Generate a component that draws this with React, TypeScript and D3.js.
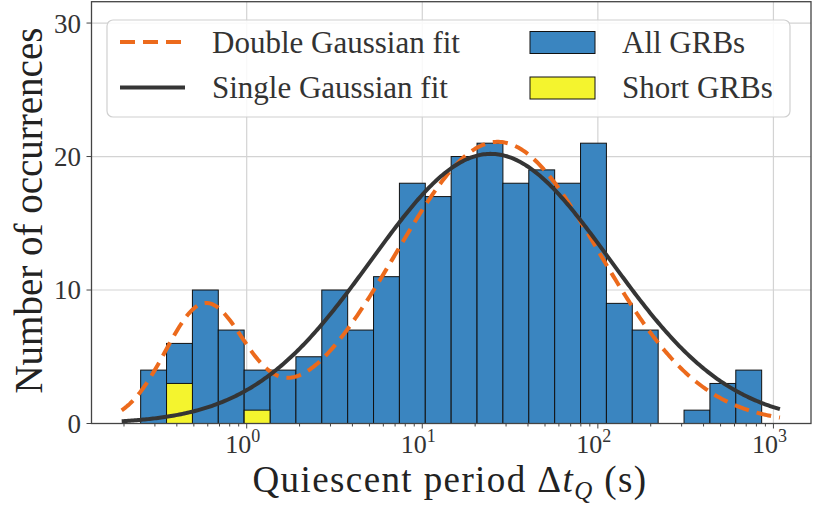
import React from "react";
import * as d3 from "d3";

// Histogram counts per log-spaced bin (24 bins)
const allCounts = [4, 6, 10, 7, 4, 4, 5, 10, 7, 11, 18, 17, 20, 21, 18, 19, 18, 21, 9, 7, 0, 1, 3, 4];
const shortCounts = [0, 3, 0, 0, 1, 0, 0, 0, 0, 0, 0, 0, 0, 0, 0, 0, 0, 0, 0, 0, 0, 0, 0, 0];
const binLog10Start = -0.604;
const binLog10End = 2.933;

// Fit parameters (in log10 space)
const doubleFit = [
  { amp: 8.7, mu: -0.24, sigma: 0.225 },
  { amp: 21.1, mu: 1.43, sigma: 0.578 },
];
const singleFit = [{ amp: 20.2, mu: 1.39, sigma: 0.68 }];
const fitLog10Range = [-0.712, 3.037];

const xTicks = [1, 10, 100, 1000];
const xTickExp = ["0", "1", "2", "3"];
const yTicks = [0, 10, 20, 30];

const W = 821;
const H = 512;
const left = 91.5;
const right = 811;
const top = 1.7;
const bottom = 423.5;

const BLUE = "#3a85c0";
const YELLOW = "#f4f42e";
const ORANGE = "#ec6a1c";
const DARK = "#353535";
const FONT = "'Liberation Serif', 'Times New Roman', serif";

export default function App() {
  const x = d3.scaleLog().domain([Math.pow(10, -0.884), Math.pow(10, 3.214)]).range([left, right]);
  const y = d3.scaleLinear().domain([0, 31.6]).range([bottom, top]);

  const nb = allCounts.length;
  const step = (binLog10End - binLog10Start) / nb;
  const edges = d3.range(nb + 1).map((i) => Math.pow(10, binLog10Start + i * step));

  const gauss = (params: { amp: number; mu: number; sigma: number }[], lx: number) =>
    params.reduce((s, p) => s + p.amp * Math.exp(-((lx - p.mu) ** 2) / (2 * p.sigma * p.sigma)), 0);

  const samples = d3.range(0, 401).map((i) => fitLog10Range[0] + (i / 400) * (fitLog10Range[1] - fitLog10Range[0]));
  const pathFor = (params: any) =>
    d3
      .line<number>()
      .x((lx) => x(Math.pow(10, lx)))
      .y((lx) => y(gauss(params, lx)))(samples) || "";

  const minorTicks: number[] = [];
  for (let e = -1; e <= 3; e++) {
    for (let m = 2; m <= 9; m++) {
      const v = m * Math.pow(10, e);
      if (x(v) > left && x(v) < right) minorTicks.push(v);
    }
  }

  return (
    <svg width={W} height={H} style={{ position: "absolute", left: 0, top: 0, background: "#fff" }} fontFamily={FONT}>
      <rect x={0} y={0} width={W} height={H} fill="#fff" />
      {/* grid */}
      <g stroke="#d3d3d3" strokeWidth={1.2}>
        {xTicks.map((t) => (
          <line key={"gx" + t} x1={x(t)} x2={x(t)} y1={top} y2={bottom} />
        ))}
        {yTicks.map((t) => (
          <line key={"gy" + t} x1={left} x2={right} y1={y(t)} y2={y(t)} />
        ))}
      </g>
      {/* bars */}
      <g stroke="#111" strokeWidth={1}>
        {allCounts.map((c, i) =>
          c > 0 ? (
            <rect key={"a" + i} x={x(edges[i])} y={y(c)} width={x(edges[i + 1]) - x(edges[i])} height={y(0) - y(c)} fill={BLUE} />
          ) : null
        )}
        {shortCounts.map((c, i) =>
          c > 0 ? (
            <rect key={"s" + i} x={x(edges[i])} y={y(c)} width={x(edges[i + 1]) - x(edges[i])} height={y(0) - y(c)} fill={YELLOW} />
          ) : null
        )}
      </g>
      {/* fits */}
      <path d={pathFor(doubleFit)} fill="none" stroke={ORANGE} strokeWidth={4} strokeDasharray="15,8" />
      <path d={pathFor(singleFit)} fill="none" stroke={DARK} strokeWidth={4} />
      {/* frame */}
      <rect x={left} y={top} width={right - left} height={bottom - top} fill="none" stroke="#444" strokeWidth={1.3} />
      {/* ticks */}
      <g stroke="#444" strokeWidth={1}>
        {xTicks.map((t) => (
          <line key={"tx" + t} x1={x(t)} x2={x(t)} y1={bottom} y2={bottom + 5} />
        ))}
        {minorTicks.map((t) => (
          <line key={"mx" + t} x1={x(t)} x2={x(t)} y1={bottom} y2={bottom + 3} />
        ))}
        {yTicks.map((t) => (
          <line key={"ty" + t} x1={left - 5} x2={left} y1={y(t)} y2={y(t)} />
        ))}
      </g>
      {xTicks.map((t, i) => (
        <text key={"lx" + t} x={x(t) - 4} y={453} textAnchor="middle" fontSize={26} fill="#333">
          10
          <tspan dy={-11} fontSize={18}>
            {xTickExp[i]}
          </tspan>
        </text>
      ))}
      {yTicks.map((t) => (
        <text key={"ly" + t} x={81} y={y(t)} dy="0.35em" textAnchor="end" fontSize={27} fill="#333">
          {t}
        </text>
      ))}
      {/* axis labels */}
      <text x={450} y={492} textAnchor="middle" fontSize={37} letterSpacing={1.4} fill="#222">
        Quiescent period Δ<tspan fontStyle="italic">t</tspan>
        <tspan fontStyle="italic" fontSize={25} dy={7}>
          Q
        </tspan>
        <tspan dy={-7}> (s)</tspan>
      </text>
      <text transform={`translate(42,${(top + bottom) / 2 - 2}) rotate(-90)`} textAnchor="middle" fontSize={39} fill="#222">
        Number of occurrences
      </text>
      {/* legend */}
      <g>
        <rect x={107} y={20} width={683} height={97} rx={6} fill="#fff" fillOpacity={0.85} stroke="#d0d0d0" strokeWidth={1.2} />
        <line x1={120} x2={185} y1={42} y2={42} stroke={ORANGE} strokeWidth={4} strokeDasharray="15,8" />
        <line x1={120} x2={185} y1={87.5} y2={87.5} stroke={DARK} strokeWidth={4} />
        <text x={212} y={53} fontSize={31} fill="#333">
          Double Gaussian fit
        </text>
        <text x={212} y={98} fontSize={31} fill="#333">
          Single Gaussian fit
        </text>
        <rect x={530} y={31.5} width={65} height={22} fill={BLUE} stroke="#111" strokeWidth={1} />
        <rect x={530} y={77} width={65} height={22} fill={YELLOW} stroke="#111" strokeWidth={1} />
        <text x={622} y={53} fontSize={31} fill="#333">
          All GRBs
        </text>
        <text x={622} y={98} fontSize={31} fill="#333">
          Short GRBs
        </text>
      </g>
    </svg>
  );
}
